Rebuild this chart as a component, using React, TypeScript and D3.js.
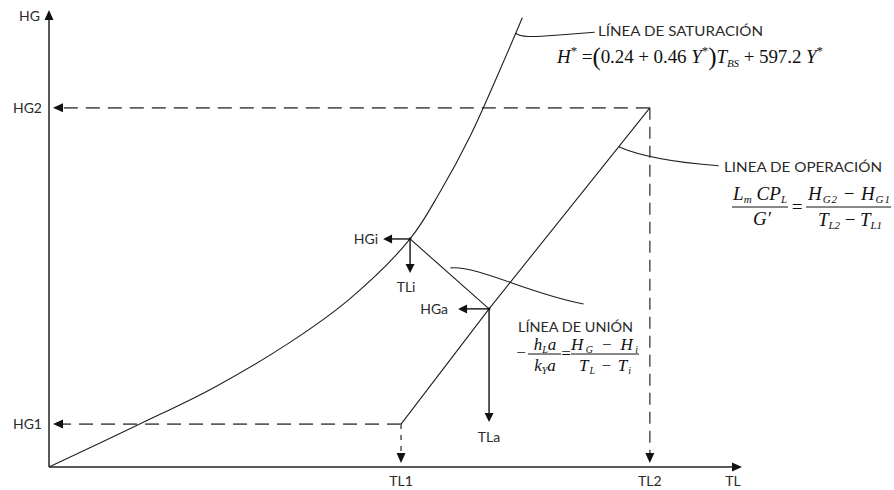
import React from "react";
import * as d3 from "d3";

const W = 894;
const H = 490;

// Saturation enthalpy curve H* against liquid temperature (schematic units)
const satTL = [0, 13.1, 23.7, 34.6, 43.4, 52.1, 56.4, 60.8, 65.1, 68.3];
const satHG = [0, 9.4, 17.3, 27.1, 36.8, 49.9, 60.1, 72.5, 87.0, 98.3];

// Operating line from the bottom (TL1, HG1) to the top (TL2, HG2) of the tower
const opTL = [50.8, 63.5, 86.7];
const opHG = [9.4, 34.6, 78.6];

// Tie line: interface point (TLi, HGi) and bulk point (TLa, HGa)
const tieTL = [52.1, 63.5];
const tieHG = [49.9, 34.6];

// Terminal conditions and their labels
const endTL = [50.8, 86.7];
const endHG = [9.4, 78.6];
const endTLLabels = ["TL1", "TL2"];
const endHGLabels = ["HG1", "HG2"];
const tieTLLabels = ["TLi", "TLa"];
const tieHGLabels = ["HGi", "HGa"];
const axisLabels = ["TL", "HG"];

const x = d3.scaleLinear().domain([0, 100]).range([49, 742]);
const y = d3.scaleLinear().domain([0, 100]).range([467, 10]);

const SANS = "Lato, 'Open Sans', sans-serif";
const SERIF = "'Liberation Serif', 'DejaVu Serif', serif";
const AXIS = "#595959";
const DASH = "#5e5e5e";
const INK = "#1f1f1f";
const TXT = "#2a2a2a";

function head(tx: number, ty: number, dx: number, dy: number, len = 10, half = 4.5) {
  const bx = tx - dx * len;
  const by = ty - dy * len;
  const px = -dy;
  const py = dx;
  return `${tx},${ty} ${bx + px * half},${by + py * half} ${bx - px * half},${by - py * half}`;
}

export default function App() {
  const pts = (a: number[], b: number[]) => a.map((t, i) => [t, b[i]] as [number, number]);
  const satPath = d3
    .line<[number, number]>()
    .x((d) => x(d[0]))
    .y((d) => y(d[1]))
    .curve(d3.curveCatmullRom.alpha(0.5))(pts(satTL, satHG))!;
  const straight = d3
    .line<[number, number]>()
    .x((d) => x(d[0]))
    .y((d) => y(d[1]));
  const opPath = straight(pts(opTL, opHG))!;
  const tiePath = straight(pts(tieTL, tieHG))!;

  const x0 = x(0);
  const y0 = y(0);
  const xEnd = x(100);
  const yEnd = y(100);

  // leader anchors
  const s = 0.7;
  const sA = [
    x(satTL[8]) + s * (x(satTL[9]) - x(satTL[8])),
    y(satHG[8]) + s * (y(satHG[9]) - y(satHG[8])),
  ];
  const t = 0.806;
  const oA = [
    x(opTL[1]) + t * (x(opTL[2]) - x(opTL[1])),
    y(opHG[1]) + t * (y(opHG[2]) - y(opHG[1])),
  ];
  const tieMid = [(x(tieTL[0]) + x(tieTL[1])) / 2, (y(tieHG[0]) + y(tieHG[1])) / 2];
  const uA = [tieMid[0] + 1, tieMid[1] - 6];

  const iX = x(tieTL[0]);
  const iY = y(tieHG[0]);
  const aX = x(tieTL[1]);
  const aY = y(tieHG[1]);

  return (
    <svg
      width={W}
      height={H}
      viewBox={`0 0 ${W} ${H}`}
      style={{ position: "absolute", left: 0, top: 0, background: "#fff" }}
    >
      <rect width={W} height={H} fill="#fff" />

      {/* dashed guides to the terminal values */}
      {endTL.map((tl, i) => {
        const px = x(tl);
        const py = y(endHG[i]);
        const vertDash = i === 0 ? "5,6" : "12,7";
        return (
          <g key={endTLLabels[i]}>
            <line x1={px} y1={py} x2={x0 + 13} y2={py} stroke={DASH} strokeWidth={1.8} strokeDasharray="14,8" />
            <polygon points={head(x0 + 4, py, -1, 0, 10, 4.5)} fill="#111" />
            <line x1={px} y1={py} x2={px} y2={y0 - 13} stroke={DASH} strokeWidth={1.6} strokeDasharray={vertDash} />
            <polygon points={head(px, y0 - 4, 0, 1, 10, 4.5)} fill="#111" />
            <text x={px} y={y0 + 19} textAnchor="middle" fontFamily={SANS} fontSize={14} fill={TXT}>
              {endTLLabels[i]}
            </text>
            <text x={42} y={py + 5} textAnchor="end" fontFamily={SANS} fontSize={14} fill={TXT}>
              {endHGLabels[i]}
            </text>
          </g>
        );
      })}

      {/* axes */}
      <line x1={x0} y1={y0} x2={xEnd - 8} y2={y0} stroke={AXIS} strokeWidth={2} />
      <polygon points={head(xEnd, y0, 1, 0, 10, 4.5)} fill="#111" />
      <line x1={x0} y1={y0} x2={x0} y2={yEnd + 8} stroke={AXIS} strokeWidth={2} />
      <polygon points={head(x0, yEnd, 0, -1, 10, 4.5)} fill="#111" />
      <text x={xEnd - 9} y={y0 + 19} textAnchor="middle" fontFamily={SANS} fontSize={14} fill={TXT}>
        {axisLabels[0]}
      </text>
      <text x={40} y={yEnd + 11} textAnchor="end" fontFamily={SANS} fontSize={14} fill={TXT}>
        {axisLabels[1]}
      </text>

      {/* curves */}
      <path d={satPath} fill="none" stroke={INK} strokeWidth={1.1} />
      <path d={opPath} fill="none" stroke={INK} strokeWidth={1.1} />
      <path d={tiePath} fill="none" stroke={INK} strokeWidth={1.1} />

      {/* interface and bulk projections */}
      <line x1={iX} y1={iY} x2={iX - 19} y2={iY} stroke="#111" strokeWidth={1.4} />
      <polygon points={head(iX - 27, iY, -1, 0, 9, 4.5)} fill="#111" />
      <line x1={iX} y1={iY} x2={iX} y2={iY + 26} stroke="#111" strokeWidth={1.4} />
      <polygon points={head(iX, iY + 34, 0, 1, 9, 4.5)} fill="#111" />
      <line x1={aX} y1={aY} x2={aX - 23} y2={aY} stroke="#111" strokeWidth={1.4} />
      <polygon points={head(aX - 31, aY, -1, 0, 9, 4.5)} fill="#111" />
      <line x1={aX} y1={aY} x2={aX} y2={aY + 105} stroke="#111" strokeWidth={1.4} />
      <polygon points={head(aX, aY + 113, 0, 1, 9, 4.5)} fill="#111" />
      <circle cx={iX} cy={iY} r={1.4} fill="#111" />
      <circle cx={aX} cy={aY} r={1.4} fill="#111" />

      <text x={iX - 32} y={iY + 5} textAnchor="end" fontFamily={SANS} fontSize={14} fill={TXT}>
        {tieHGLabels[0]}
      </text>
      <text x={iX - 4} y={iY + 53} textAnchor="middle" fontFamily={SANS} fontSize={14} fill={TXT}>
        {tieTLLabels[0]}
      </text>
      <text x={aX - 41} y={aY + 5} textAnchor="end" fontFamily={SANS} fontSize={14} fill={TXT}>
        {tieHGLabels[1]}
      </text>
      <text x={aX} y={aY + 133} textAnchor="middle" fontFamily={SANS} fontSize={14} fill={TXT}>
        {tieTLLabels[1]}
      </text>

      {/* leader lines */}
      <path
        d={`M${sA[0]},${sA[1]} C${sA[0] + 5},${sA[1] + 4} ${sA[0] + 15},${sA[1] + 4} ${sA[0] + 40},${sA[1] + 2} L${sA[0] + 79},${sA[1] - 1}`}
        fill="none"
        stroke={INK}
        strokeWidth={1.1}
      />
      <path
        d={`M${oA[0]},${oA[1]} C${oA[0] + 25},${oA[1] + 11} ${oA[0] + 60},${oA[1] + 16} ${oA[0] + 100},${oA[1] + 19}`}
        fill="none"
        stroke={INK}
        strokeWidth={1.1}
      />
      <path
        d={`M${uA[0]},${uA[1]} C${uA[0] + 30},${uA[1] - 2} ${uA[0] + 75},${uA[1] + 25} ${uA[0] + 133},${uA[1] + 36}`}
        fill="none"
        stroke={INK}
        strokeWidth={1.1}
      />

      {/* saturation line annotation */}
      <text x={598} y={36} fontFamily={SANS} fontSize={14} fill={TXT} textLength={165} lengthAdjust="spacingAndGlyphs">
        LÍNEA DE SATURACIÓN
      </text>
      <text x={557} y={63} fontFamily={SERIF} fontSize={19} fill="#111" textLength={266} lengthAdjust="spacing">
        <tspan fontStyle="italic">H</tspan>
        <tspan fontSize={13} dy={-8}>*</tspan>
        <tspan dy={8}> =</tspan>
        <tspan fontSize={25} dy={2}>(</tspan>
        <tspan dy={-2}>0.24 + 0.46 </tspan>
        <tspan fontStyle="italic">Y</tspan>
        <tspan fontSize={13} dy={-8}>*</tspan>
        <tspan fontSize={25} dy={10}>)</tspan>
        <tspan fontStyle="italic" dy={-2}>T</tspan>
        <tspan fontStyle="italic" fontSize={11} dy={4}>BS</tspan>
        <tspan dy={-4}> + 597.2 </tspan>
        <tspan fontStyle="italic">Y</tspan>
        <tspan fontSize={13} dy={-8}>*</tspan>
      </text>

      {/* operating line annotation */}
      <text x={724} y={172} fontFamily={SANS} fontSize={14} fill={TXT} textLength={158} lengthAdjust="spacingAndGlyphs">
        LINEA DE OPERACIÓN
      </text>
      <g fontFamily={SERIF} fontSize={19} fill="#111">
        <text x={733} y={200} fontStyle="italic" textLength={54} lengthAdjust="spacing">
          <tspan>L</tspan>
          <tspan fontSize={11} dy={3}>m</tspan>
          <tspan dy={-3}> CP</tspan>
          <tspan fontSize={11} dy={3}>L</tspan>
        </text>
        <line x1={732} y1={207} x2={788} y2={207} stroke="#111" strokeWidth={1} />
        <text x={762} y={225} fontStyle="italic" textAnchor="middle">
          G′
        </text>
        <text x={797} y={213} textAnchor="middle">=</text>
        <text x={808} y={200} fontStyle="italic" textLength={82} lengthAdjust="spacing">
          <tspan>H</tspan>
          <tspan fontSize={11} dy={3}>G2</tspan>
          <tspan dy={-3} fontStyle="normal"> − </tspan>
          <tspan>H</tspan>
          <tspan fontSize={11} dy={3}>G1</tspan>
        </text>
        <line x1={806} y1={207} x2={891} y2={207} stroke="#111" strokeWidth={1} />
        <text x={818} y={226} fontStyle="italic" textLength={64} lengthAdjust="spacing">
          <tspan>T</tspan>
          <tspan fontSize={11} dy={3}>L2</tspan>
          <tspan dy={-3} fontStyle="normal"> − </tspan>
          <tspan>T</tspan>
          <tspan fontSize={11} dy={3}>L1</tspan>
        </text>
      </g>

      {/* tie line annotation */}
      <text x={518} y={332} fontFamily={SANS} fontSize={14} fill={TXT} textLength={115} lengthAdjust="spacingAndGlyphs">
        LÍNEA DE UNIÓN
      </text>
      <g fontFamily={SERIF} fontSize={17} fill="#111">
        <text x={521} y={358} textAnchor="middle">−</text>
        <text x={545} y={350} fontStyle="italic" textAnchor="middle">
          <tspan>h</tspan>
          <tspan fontSize={10} dy={3}>L</tspan>
          <tspan dy={-3}>a</tspan>
        </text>
        <line x1={528} y1={354} x2={561} y2={354} stroke="#111" strokeWidth={1} />
        <text x={545} y={371} fontStyle="italic" textAnchor="middle">
          <tspan>k</tspan>
          <tspan fontSize={10} dy={3}>Y</tspan>
          <tspan dy={-3}>a</tspan>
        </text>
        <text x={566} y={359} textAnchor="middle">=</text>
        <text x={571} y={350} fontStyle="italic" textLength={67} lengthAdjust="spacing">
          <tspan>H</tspan>
          <tspan fontSize={10} dy={3}>G</tspan>
          <tspan dy={-3} fontStyle="normal"> − </tspan>
          <tspan>H</tspan>
          <tspan fontSize={10} dy={3}>i</tspan>
        </text>
        <line x1={571} y1={354} x2={639} y2={354} stroke="#111" strokeWidth={1} />
        <text x={579} y={371} fontStyle="italic" textLength={52} lengthAdjust="spacing">
          <tspan>T</tspan>
          <tspan fontSize={10} dy={3}>L</tspan>
          <tspan dy={-3} fontStyle="normal"> − </tspan>
          <tspan>T</tspan>
          <tspan fontSize={10} dy={3}>i</tspan>
        </text>
      </g>
    </svg>
  );
}
